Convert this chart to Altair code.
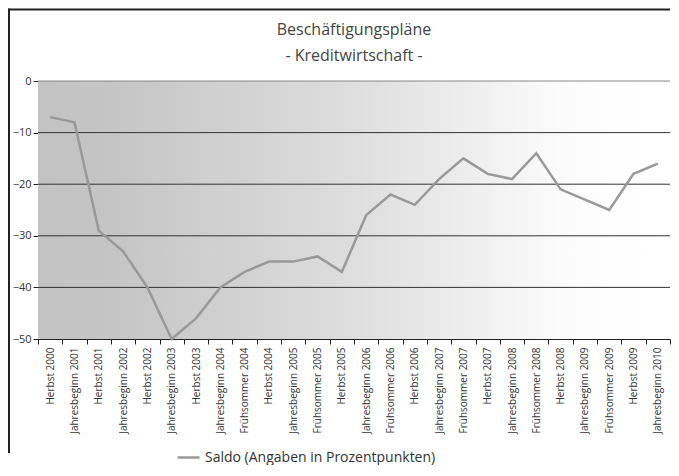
import altair as alt
import pandas as pd

categories = [
    "Herbst 2000", "Jahresbeginn 2001", "Herbst 2001", "Jahresbeginn 2002",
    "Herbst 2002", "Jahresbeginn 2003", "Herbst 2003", "Jahresbeginn 2004",
    "Frühsommer 2004", "Herbst 2004", "Jahresbeginn 2005", "Frühsommer 2005",
    "Herbst 2005", "Jahresbeginn 2006", "Frühsommer 2006", "Herbst 2006",
    "Jahresbeginn 2007", "Frühsommer 2007", "Herbst 2007", "Jahresbeginn 2008",
    "Frühsommer 2008", "Herbst 2008", "Jahresbeginn 2009", "Frühsommer 2009",
    "Herbst 2009", "Jahresbeginn 2010",
]
saldo = [-7, -8, -29, -33, -40, -50, -46, -40, -37, -35, -35, -34, -37,
         -26, -22, -24, -19, -15, -18, -19, -14, -21, -23, -25, -18, -16]
series_name = "Saldo (Angaben in Prozentpunkten)"
y_ticks = [0, -10, -20, -30, -40, -50]
grid_values = [0, -10, -20, -30, -40]
title_lines = ["Beschäftigungspläne", "- Kreditwirtschaft -"]

FONT = "Open Sans"
W, H = 632, 258

df = pd.DataFrame({"cat": categories, "value": saldo, "series": series_name})
grid_df = pd.DataFrame({"v": grid_values})
one = pd.DataFrame({"k": [0]})

x_enc = alt.X("cat:N", sort=categories, bandPosition=0.5,
              scale=alt.Scale(type="band", paddingInner=0, paddingOuter=0),
              axis=alt.Axis(title=None, labelAngle=-90, tickBand="extent",
                            tickSize=5, tickColor="#222", domainColor="#222",
                            labelFontSize=10, labelColor="#333", labelFont=FONT,
                            labelPadding=3, grid=False))
y_scale = alt.Scale(domain=[-50, 0], nice=False)

border_left = alt.Chart(one).mark_rect(fill="#222").encode(
    x=alt.value(-30), x2=alt.value(-28), y=alt.value(-72.5), y2=alt.value(372)
)
border_top = alt.Chart(one).mark_rect(fill="#222").encode(
    x=alt.value(-30), x2=alt.value(W), y=alt.value(-72.5), y2=alt.value(-70.5)
)

grad = alt.Chart(one).mark_rect(
    fill=alt.Gradient(
        gradient="linear", x1=0, x2=1, y1=0, y2=0,
        stops=[alt.GradientStop(offset=0, color="#c3c3c3"),
               alt.GradientStop(offset=0.12, color="#c5c5c5"),
               alt.GradientStop(offset=0.5, color="#dedede"),
               alt.GradientStop(offset=0.85, color="#fdfdfd"),
               alt.GradientStop(offset=1, color="#ffffff")]
    )
).encode(x=alt.value(0), x2=alt.value(W), y=alt.value(0), y2=alt.value(H))

grid = alt.Chart(grid_df).mark_rule(strokeWidth=1).encode(
    y=alt.Y("v:Q", scale=y_scale),
    color=alt.condition(alt.datum.v == 0, alt.value("#888888"), alt.value("#333333")),
)

line = alt.Chart(df).mark_line(strokeWidth=2.5).encode(
    x=x_enc,
    y=alt.Y("value:Q", scale=y_scale,
            axis=alt.Axis(title=None, values=y_ticks, grid=False, tickSize=5,
                          tickColor="#222", domainColor="#222", labelFontSize=11,
                          labelColor="#333", labelFont=FONT, labelPadding=2)),
    color=alt.Color("series:N", scale=alt.Scale(range=["#999999"]),
                    legend=alt.Legend(title=None, orient="none", legendX=138, legendY=364,
                                      symbolType="stroke", symbolSize=484,
                                      symbolStrokeWidth=2.5, labelFontSize=14,
                                      labelLimit=0, labelColor="#333", labelFont=FONT)),
)

t1 = alt.Chart(one).mark_text(fontSize=16, font=FONT, color="#444", baseline="alphabetic").encode(
    x=alt.value(W / 2), y=alt.value(-46), text=alt.value(title_lines[0])
)
t2 = alt.Chart(one).mark_text(fontSize=16, font=FONT, color="#444", baseline="alphabetic").encode(
    x=alt.value(W / 2), y=alt.value(-20), text=alt.value(title_lines[1])
)

chart = alt.layer(border_left, border_top, grad, grid, line, t1, t2).properties(
    width=W, height=H, padding=0
).configure_view(stroke=None)

chart.save("out.html", embed_options={"renderer": "svg", "actions": False})
